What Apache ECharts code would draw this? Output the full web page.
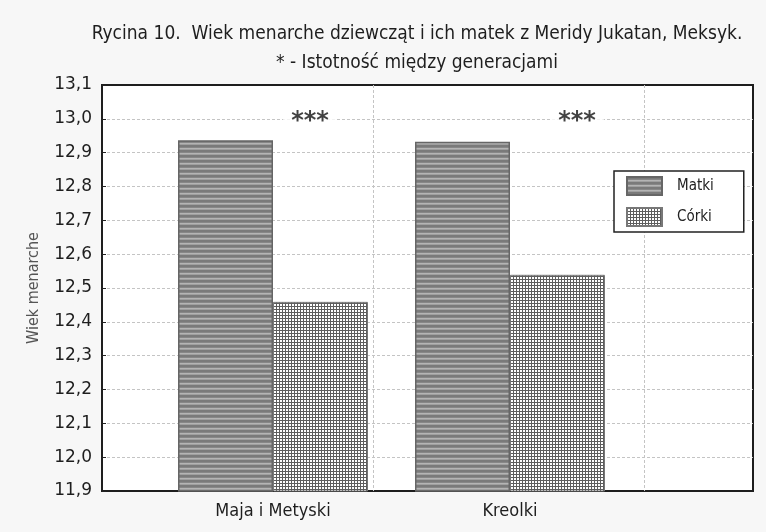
<!DOCTYPE html>
<html>
<head>
<meta charset="utf-8">
<script src="https://cdn.jsdelivr.net/npm/echarts@6/dist/echarts.min.js"></script>
<style>
html,body{margin:0;padding:0;background:#f7f7f7;}
#chart{width:766px;height:532px;}
</style>
</head>
<body>
<div id="chart"></div>
<script>
// ---- data ----
var categories = ['Maja i Metyski', 'Kreolki'];
var seriesNames = ['Matki', 'Córki'];
var matkiValues = [12.937, 12.932];
var corkiValues = [12.459, 12.539];
var significance = ['***', '***'];
var yTicks = [11.9, 12.0, 12.1, 12.2, 12.3, 12.4, 12.5, 12.6, 12.7, 12.8, 12.9, 13.0, 13.1];
var titleLines = ['Rycina 10.  Wiek menarche dziewcząt i ich matek z Meridy Jukatan, Meksyk.', '* - Istotność między generacjami'];
var yName = 'Wiek menarche';

// ---- patterns ----
function stripePattern() {
  var c = document.createElement('canvas');
  c.width = 4; c.height = 5;
  var ctx = c.getContext('2d');
  var rows = ['#7a7a7a', '#7a7a7a', '#878787', '#b4b4b4', '#9f9f9f'];
  for (var i = 0; i < rows.length; i++) { ctx.fillStyle = rows[i]; ctx.fillRect(0, i, 4, 1); }
  return c;
}
function gridPattern() {
  var c = document.createElement('canvas');
  c.width = 3; c.height = 3;
  var ctx = c.getContext('2d');
  ctx.fillStyle = '#ffffff'; ctx.fillRect(0, 0, 3, 3);
  ctx.fillStyle = '#5e5e5e'; ctx.fillRect(0, 0, 3, 1); ctx.fillRect(0, 0, 1, 3);
  return c;
}

var chart = echarts.init(document.getElementById('chart'), null, {renderer: 'canvas'});
var yMin = yTicks[0], yMax = yTicks[yTicks.length - 1];
var yInnerMin = yTicks[1], yInnerMax = yTicks[yTicks.length - 2];
var narrow = '"DejaVu Sans Condensed", "DejaVu Sans", sans-serif';

// plot frame geometry
var PL = 102, PT = 85, PW = 651, PH = 406;
var step = PH / (yTicks.length - 1);
var gridDash = {color: '#c4c4c4', type: [3, 2], width: 1};

var option = {
  backgroundColor: '#f7f7f7',
  animation: false,
  title: {
    text: titleLines.join('\n'),
    left: 412, top: 15, textAlign: 'center',
    textStyle: {fontFamily: narrow, fontSize: 19, fontWeight: 'normal', color: '#1e1e1e', lineHeight: 29}
  },
  legend: {
    orient: 'vertical',
    left: 614, top: 171,
    data: seriesNames,
    icon: 'rect',
    itemWidth: 35, itemHeight: 18, itemGap: 11,
    padding: [5, 30, 5, 12],
    backgroundColor: '#ffffff',
    borderColor: '#222222', borderWidth: 1.5,
    textStyle: {fontFamily: narrow, fontSize: 15, color: '#222', padding: [0, 0, 0, 10]}
  },
  grid: [
    // frame
    {left: PL, top: PT, width: PW, height: PH, show: true, backgroundColor: '#ffffff', borderColor: '#1e1e1e', borderWidth: 2},
    // bars
    {left: 154.5, top: PT, width: 474, height: PH},
    // horizontal dashed lines (inner ticks only)
    {left: PL, top: PT + step, width: PW, height: PH - 2 * step},
    // vertical dashed lines
    {left: PL + PW * 5 / 12, top: PT, width: PW * 5 / 12, height: PH}
  ],
  xAxis: [
    {type: 'value', gridIndex: 0, min: 0, max: 1, show: false},
    {type: 'category', gridIndex: 1, data: categories,
     axisLine: {show: false}, axisTick: {show: false},
     axisLabel: {margin: 11, fontFamily: narrow, fontSize: 18, color: '#1e1e1e'}},
    {type: 'value', gridIndex: 2, min: 0, max: 1, show: false},
    {type: 'value', gridIndex: 3, min: 5, max: 10, interval: 5,
     axisLine: {show: false}, axisTick: {show: false}, axisLabel: {show: false},
     splitLine: {show: true, lineStyle: gridDash}}
  ],
  yAxis: [
    {type: 'value', gridIndex: 0, min: yMin, max: yMax, interval: 0.1,
     name: yName, nameLocation: 'middle', nameGap: 60,
     nameTextStyle: {fontFamily: narrow, fontSize: 16, color: '#555'},
     axisLine: {show: false},
     axisTick: {show: true, inside: true, length: 4, lineStyle: {color: '#222'}},
     axisLabel: {margin: 10, fontFamily: '"DejaVu Sans", sans-serif', fontSize: 17, color: '#1e1e1e',
       formatter: function (v) { return v.toFixed(1).replace('.', ','); }},
     splitLine: {show: false}},
    {type: 'value', gridIndex: 1, min: yMin, max: yMax, interval: 0.1, show: false, splitLine: {show: false}},
    {type: 'value', gridIndex: 2, min: yInnerMin, max: yInnerMax, interval: 0.1,
     axisLine: {show: false}, axisTick: {show: false}, axisLabel: {show: false},
     splitLine: {show: true, lineStyle: gridDash}},
    {type: 'value', gridIndex: 3, min: 0, max: 1, show: false, splitLine: {show: false}}
  ],
  series: [
    {name: seriesNames[0], type: 'bar', xAxisIndex: 1, yAxisIndex: 1, data: matkiValues,
     barWidth: 95, barGap: '0%', z: 5,
     itemStyle: {color: {image: stripePattern(), repeat: 'repeat'}, borderColor: '#666', borderWidth: 1.5}},
    {name: seriesNames[1], type: 'bar', xAxisIndex: 1, yAxisIndex: 1, data: corkiValues,
     barWidth: 95, barGap: '0%', z: 5,
     itemStyle: {color: {image: gridPattern(), repeat: 'repeat'}, borderColor: '#777', borderWidth: 1}},
    {name: 'sig', type: 'scatter', xAxisIndex: 1, yAxisIndex: 1, symbolSize: 0, silent: true, z: 6,
     data: [
       {value: [categories[0], 13.0], label: {offset: [37, 3]}},
       {value: [categories[1], 13.0], label: {offset: [67, 3]}}
     ],
     label: {show: true, position: 'inside', formatter: function (p) { return significance[p.dataIndex]; },
       fontFamily: '"DejaVu Sans", sans-serif', fontSize: 24, fontWeight: 'bold', color: '#111',
       backgroundColor: '#ffffff', padding: [0, 8, 0, 8]}}
  ]
};
chart.setOption(option);
</script>
</body>
</html>
